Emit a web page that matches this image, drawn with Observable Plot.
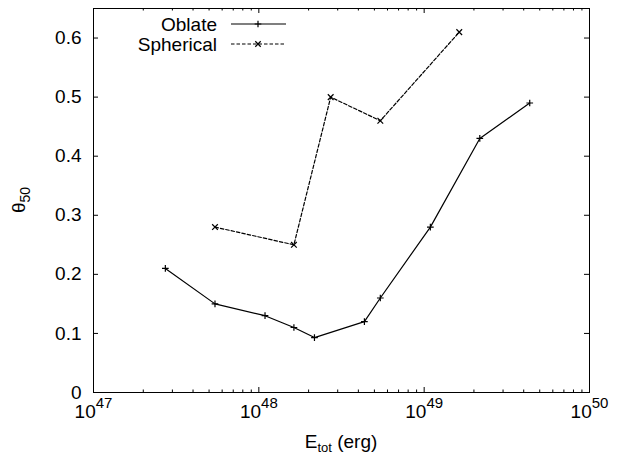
<!DOCTYPE html>
<html><head><meta charset="utf-8">
<script src="https://cdn.jsdelivr.net/npm/d3@7"></script>
<script src="https://cdn.jsdelivr.net/npm/@observablehq/plot@0.6"></script>
<style>
html,body{margin:0;padding:0;background:#fff;}
</style>
</head><body><div id="chart"></div>
<script>
// ---- data ----
const oblateE = [2.72e47, 5.43e47, 1.09e48, 1.63e48, 2.17e48, 4.35e48, 5.43e48, 1.09e49, 2.17e49, 4.35e49];
const oblateTheta = [0.21, 0.15, 0.13, 0.11, 0.093, 0.12, 0.16, 0.28, 0.43, 0.49];
const sphericalE = [5.43e47, 1.63e48, 2.72e48, 5.43e48, 1.63e49];
const sphericalTheta = [0.28, 0.25, 0.50, 0.46, 0.61];
const seriesNames = ["Oblate", "Spherical"];
const xTickValues = [1e47, 1e48, 1e49, 1e50];
const xTickExponents = ["47", "48", "49", "50"];
const yTickValues = [0, 0.1, 0.2, 0.3, 0.4, 0.5, 0.6];
const yTickLabels = ["0", "0.1", "0.2", "0.3", "0.4", "0.5", "0.6"];

const oblate = oblateE.map((e, i) => ({E: e, theta: oblateTheta[i]}));
const spherical = sphericalE.map((e, i) => ({E: e, theta: sphericalTheta[i]}));
const minorTicks = [];
for (let n = 47; n < 50; n++) for (let k = 2; k <= 9; k++) minorTicks.push(k * Math.pow(10, n));

const W = 626, H = 455, mL = 93, mR = 37, mT = 8, mB = 63;
const plotH = H - mT - mB, plotW = W - mL - mR;
const FONT = "'Liberation Sans', Arial, Helvetica, sans-serif";

const plot = Plot.plot({
  width: W, height: H,
  marginLeft: mL, marginRight: mR, marginTop: mT, marginBottom: mB,
  style: {fontFamily: FONT, fontSize: "19px", background: "white", color: "black"},
  x: {type: "log", domain: [1e47, 1e50], axis: null},
  y: {domain: [0, 0.65], axis: null},
  marks: [
    Plot.frame({stroke: "black", strokeWidth: 1}),
    Plot.tickX(xTickValues, {x: d => d, insetTop: plotH - 5, stroke: "black"}),
    Plot.tickX(xTickValues, {x: d => d, insetBottom: plotH - 5, stroke: "black"}),
    Plot.tickX(minorTicks, {x: d => d, insetTop: plotH - 2.5, stroke: "black"}),
    Plot.tickX(minorTicks, {x: d => d, insetBottom: plotH - 2.5, stroke: "black"}),
    Plot.tickY(yTickValues, {y: d => d, insetRight: plotW - 5, stroke: "black"}),
    Plot.tickY(yTickValues, {y: d => d, insetLeft: plotW - 5, stroke: "black"}),
    Plot.text(yTickValues, {y: d => d, text: (d, i) => yTickLabels[i], frameAnchor: "left", dx: -12, textAnchor: "end", fill: "black"}),
    Plot.text(xTickValues, {x: d => d, text: (d, i) => xTickExponents[i], frameAnchor: "bottom", dy: 25, fill: "black"}),
    Plot.line(oblate, {x: "E", y: "theta", stroke: "black", strokeWidth: 1.2}),
    Plot.line(spherical, {x: "E", y: "theta", stroke: "black", strokeWidth: 1.2, strokeDasharray: "3.5,2"}),
    Plot.dot(oblate, {x: "E", y: "theta", symbol: "plus", r: 2.3, stroke: "black", fill: "none", strokeWidth: 1.2}),
    Plot.dot(spherical, {x: "E", y: "theta", symbol: "times", r: 2.7, stroke: "black", fill: "none", strokeWidth: 1.2})
  ]
});

const svg = d3.select(plot);
// superscript exponents on x tick labels
svg.selectAll("text").filter(function () {
  return xTickExponents.includes(this.textContent) && this.childElementCount === 0;
}).each(function () {
  const exp = this.textContent;
  const t = d3.select(this);
  t.text(null);
  t.append("tspan").text("10");
  t.append("tspan").attr("dy", -10).attr("font-size", 15).text(exp);
});

// axis labels
const xl = svg.append("text").attr("x", (mL + W - mR) / 2).attr("y", 448)
  .attr("text-anchor", "middle").attr("font-size", 19).attr("fill", "black");
xl.append("tspan").text("E");
xl.append("tspan").attr("dy", 4).attr("font-size", 13).text("tot");
xl.append("tspan").attr("dy", -4).text(" (erg)");

const yl = svg.append("text").attr("transform", `translate(25,${(mT + H - mB) / 2}) rotate(-90)`)
  .attr("text-anchor", "middle").attr("font-size", 19).attr("fill", "black");
yl.append("tspan").text("θ");
yl.append("tspan").attr("dy", 5).attr("font-size", 14).text("50");

// legend
const lg = svg.append("g").attr("font-size", 19).attr("fill", "black");
const legendRows = [
  {name: seriesNames[0], y: 24, dash: null, sym: d3.symbol(d3.symbolPlus, 16.5)()},
  {name: seriesNames[1], y: 44, dash: "3.5,2", sym: d3.symbol(d3.symbolTimes, 21)()}
];
legendRows.forEach(r => {
  lg.append("text").attr("x", 217).attr("y", r.y + 7).attr("text-anchor", "end").text(r.name);
  lg.append("line").attr("x1", 231).attr("x2", 286).attr("y1", r.y).attr("y2", r.y)
    .attr("stroke", "black").attr("stroke-width", 1.2).attr("stroke-dasharray", r.dash);
  lg.append("path").attr("d", r.sym).attr("transform", `translate(258,${r.y})`)
    .attr("stroke", "black").attr("fill", "none").attr("stroke-width", 1.2);
});

document.getElementById("chart").appendChild(plot);
</script>
</body></html>
